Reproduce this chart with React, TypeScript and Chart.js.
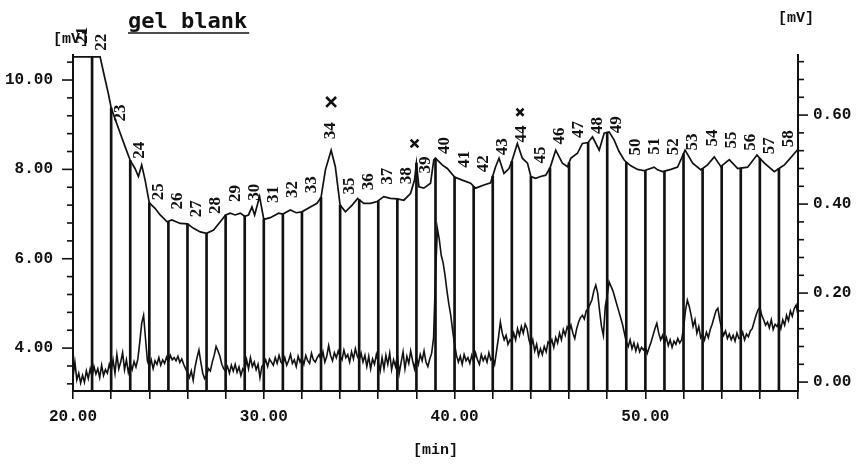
import { useEffect, useRef } from "react";
import { Chart, registerables } from "chart.js";

Chart.register(...registerables);

const INK = "#111111";

// Time axis [min]
const TIME_MIN = 20;
const TIME_MAX = 58;
const TIME_LABELS = [20, 30, 40, 50];

// Left detector axis [mV]
const LEFT_MIN = 3.04;
const LEFT_MAX = 10.56;
const LEFT_LABELS = [4, 6, 8, 10];

// Right detector axis [mV]
const RIGHT_MIN = -0.02;
const RIGHT_MAX = 0.735;
const RIGHT_LABELS = [0, 0.2, 0.4, 0.6];

// Upper trace (left axis) – retention time [min] and signal [mV]
const UPPER_TIME = [
  20.0, 21.0, 21.42, 21.59, 21.85, 22.0, 22.38, 22.73, 23.0, 23.25, 23.43, 23.6, 23.78,
  24.0, 24.3, 24.57, 24.92, 25.0, 25.18, 25.62, 26.0, 26.32, 26.67, 27.0, 27.37, 27.72,
  28.0, 28.24, 28.5, 28.77, 29.0, 29.2, 29.38, 29.52, 29.78, 30.0, 30.34, 30.78, 31.0,
  31.39, 31.7, 32.0, 32.44, 32.79, 33.0, 33.23, 33.53, 33.75, 34.0, 34.28, 34.63, 34.92,
  35.0, 35.24, 35.59, 35.94, 36.0, 36.29, 36.64, 37.0, 37.34, 37.69, 37.9, 38.0, 38.13,
  38.39, 38.74, 38.91, 39.0, 39.35, 39.62, 40.0, 40.4, 40.84, 41.0, 41.1, 41.54, 41.89,
  42.0, 42.15, 42.33, 42.59, 42.85, 43.0, 43.29, 43.55, 43.82, 44.0, 44.25, 44.51, 44.78,
  45.0, 45.3, 45.65, 45.92, 46.0, 46.09, 46.44, 46.7, 47.0, 47.23, 47.58, 47.84, 48.0,
  48.1, 48.36, 48.62, 48.89, 49.0, 49.24, 49.59, 49.94, 50.0, 50.46, 50.64, 50.9, 51.0,
  51.34, 51.69, 52.0, 52.08, 52.48, 52.91, 53.0, 53.26, 53.61, 53.96, 54.0, 54.4, 54.84,
  55.0, 55.36, 55.85, 56.0, 56.24, 56.76, 57.0, 57.29, 57.9, 58.0,
];
const UPPER_MV = [
  10.52, 10.52, 10.52, 10.19, 9.7, 9.38, 8.92, 8.51, 8.2, 8.02, 7.84, 8.1, 7.76,
  7.25, 7.13, 6.98, 6.83, 6.84, 6.87, 6.79, 6.78, 6.68, 6.6, 6.57, 6.64, 6.83,
  6.98, 7.02, 6.98, 7.02, 6.95, 6.98, 7.16, 6.98, 7.39, 6.88, 6.92, 7.02, 7.0,
  7.09, 7.03, 7.05, 7.16, 7.24, 7.37, 7.99, 8.43, 8.06, 7.2, 7.05, 7.2, 7.35,
  7.32, 7.24, 7.24, 7.28, 7.3, 7.39, 7.35, 7.34, 7.31, 7.46, 7.76, 8.14, 7.61,
  7.58, 7.69, 8.21, 8.25, 8.1, 8.02, 7.83, 7.76, 7.69, 7.62, 7.58, 7.65, 7.7,
  7.85, 8.06, 8.25, 7.91, 8.02, 8.18, 8.58, 8.25, 8.14, 7.84, 7.8, 7.84, 7.87,
  8.03, 8.43, 8.14, 8.06, 8.15, 8.25, 8.36, 8.58, 8.6, 8.73, 8.43, 8.81, 8.83,
  8.84, 8.66, 8.4, 8.21, 8.16, 8.08, 8.0, 7.97, 7.98, 8.05, 7.99, 7.95, 7.96,
  8.0, 8.05, 8.35, 8.43, 8.14, 7.99, 8.02, 8.1, 8.28, 8.06, 8.08, 8.22, 8.02,
  8.03, 8.05, 8.32, 8.25, 8.14, 7.95, 8.02, 8.1, 8.4, 8.45,
];

// Fraction cut times [min] and fraction numbers
const FRACTION_CUTS = [
  21, 22, 23, 24, 25, 26, 27, 28, 29, 30, 31, 32, 33, 34, 35, 36, 37, 38, 39,
  40, 41, 42, 43, 44, 45, 46, 47, 48, 49, 50, 51, 52, 53, 54, 55, 56, 57,
];
const FRACTION_NUMBERS = [
  21, 22, 23, 24, 25, 26, 27, 28, 29, 30, 31, 32, 33, 34, 35, 36, 37, 38, 39,
  40, 41, 42, 43, 44, 45, 46, 47, 48, 49, 50, 51, 52, 53, 54, 55, 56, 57, 58,
];

// Marked peaks (×)
const MARK_TIME = [33.53, 37.9, 43.43];
const MARK_MV = [9.51, 8.58, 9.28];

// Lower trace (right axis), sampled every 0.1 min from 20.0 min
const LOWER_START = 20;
const LOWER_STEP = 0.1;
const LOWER_MV = [
  0.010, 0.045, 0.005, 0.020, -0.002, 0.015, 0.000, 0.025, 0.008, 0.030,
  0.012, 0.035, 0.018, 0.030, 0.010, 0.038, 0.015, 0.028, 0.020, 0.040,
  0.025, 0.050, 0.020, 0.062, 0.030, 0.045, 0.066, 0.028, 0.050, 0.022,
  0.040, 0.028, 0.046, 0.034, 0.052, 0.090, 0.132, 0.150, 0.098, 0.048,
  0.035, 0.050, 0.030, 0.048, 0.040, 0.055, 0.038, 0.050, 0.042, 0.056,
  0.045, 0.060, 0.050, 0.055, 0.048, 0.058, 0.044, 0.052, 0.040, 0.030,
  0.022, 0.010, 0.025, 0.004, 0.035, 0.055, 0.072, 0.045, 0.020, 0.008,
  0.015, 0.030, 0.025, 0.045, 0.060, 0.080, 0.070, 0.058, 0.040, 0.030,
  0.025, 0.035, 0.020, 0.038, 0.025, 0.040, 0.022, 0.034, 0.015, 0.030,
  0.025, 0.050, 0.030, 0.055, 0.035, 0.045, 0.028, 0.040, 0.010, 0.035,
  0.040, 0.050, 0.035, 0.052, 0.045, 0.038, 0.055, 0.042, 0.060, 0.045,
  0.040, 0.055, 0.038, 0.048, 0.062, 0.042, 0.050, 0.035, 0.058, 0.045,
  0.055, 0.040, 0.060, 0.048, 0.042, 0.065, 0.050, 0.045, 0.055, 0.062,
  0.050, 0.068, 0.045, 0.058, 0.082, 0.060, 0.048, 0.066, 0.055, 0.070,
  0.058, 0.050, 0.072, 0.055, 0.062, 0.045, 0.068, 0.052, 0.075, 0.058,
  0.050, 0.065, 0.045, 0.060, 0.035, 0.058, 0.030, 0.052, 0.040, 0.062,
  0.045, 0.025, 0.055, 0.030, 0.060, 0.040, 0.065, 0.028, 0.050, 0.035,
  0.060, 0.020, 0.045, 0.068, 0.030, 0.058, 0.042, 0.070, 0.048, 0.030,
  0.055, 0.040, 0.062, 0.048, 0.070, 0.045, 0.035, 0.052, 0.065, 0.100,
  0.240, 0.345, 0.320, 0.285, 0.268, 0.240, 0.205, 0.175, 0.150, 0.115,
  0.085, 0.060, 0.045, 0.058, 0.040, 0.062, 0.048, 0.055, 0.042, 0.060,
  0.045, 0.065, 0.050, 0.040, 0.062, 0.048, 0.058, 0.045, 0.066, 0.050,
  0.055, 0.040, 0.070, 0.100, 0.135, 0.110, 0.095, 0.105, 0.085, 0.095,
  0.090, 0.110, 0.095, 0.120, 0.105, 0.125, 0.110, 0.130, 0.120, 0.095,
  0.080, 0.095, 0.070, 0.085, 0.060, 0.075, 0.062, 0.080, 0.068, 0.090,
  0.085, 0.095, 0.078, 0.100, 0.088, 0.110, 0.095, 0.118, 0.105, 0.124,
  0.115, 0.128, 0.110, 0.098, 0.120, 0.135, 0.145, 0.150, 0.142, 0.160,
  0.165, 0.175, 0.185, 0.205, 0.218, 0.200, 0.160, 0.125, 0.105, 0.170,
  0.195, 0.225, 0.215, 0.205, 0.190, 0.175, 0.160, 0.145, 0.130, 0.110,
  0.090, 0.080, 0.095, 0.075, 0.088, 0.070, 0.085, 0.068, 0.078, 0.072,
  0.080, 0.065, 0.078, 0.090, 0.105, 0.120, 0.132, 0.110, 0.095, 0.105,
  0.088, 0.100, 0.082, 0.095, 0.078, 0.092, 0.085, 0.098, 0.088, 0.095,
  0.120, 0.160, 0.184, 0.170, 0.150, 0.125, 0.140, 0.110, 0.125, 0.100,
  0.108, 0.095, 0.112, 0.100, 0.118, 0.130, 0.145, 0.160, 0.166, 0.140,
  0.120, 0.105, 0.115, 0.098, 0.108, 0.095, 0.105, 0.092, 0.110, 0.098,
  0.100, 0.112, 0.095, 0.108, 0.102, 0.115, 0.120, 0.135, 0.150, 0.162,
  0.168, 0.150, 0.140, 0.128, 0.135, 0.122, 0.140, 0.118, 0.130, 0.125,
  0.135, 0.120, 0.140, 0.128, 0.150, 0.138, 0.160, 0.148, 0.165, 0.173,
  0.150,
];

const TITLE = "gel blank";
const UNIT_Y = "[mV]";
const UNIT_X = "[min]";

const AXIS_FONT = { family: '"Liberation Mono", monospace', size: 16, weight: "bold" as const };

const nearOne = (v: number, list: number[]) => list.some((l) => Math.abs(v - l) < 1e-6);

// upper trace value at time t (linear between recorded points), used to place fraction numbers
const upperAt = (t: number) => {
  for (let i = 1; i < UPPER_TIME.length; i++) {
    if (t <= UPPER_TIME[i]) {
      const t0 = UPPER_TIME[i - 1];
      const t1 = UPPER_TIME[i];
      const f = (t - t0) / (t1 - t0);
      return UPPER_MV[i - 1] + f * (UPPER_MV[i] - UPPER_MV[i - 1]);
    }
  }
  return UPPER_MV[UPPER_MV.length - 1];
};

const decorations = {
  id: "decorations",
  afterDraw(chart: any) {
    const ctx: CanvasRenderingContext2D = chart.ctx;
    const { left, right, top } = chart.chartArea;
    const x = chart.scales.x;
    const y = chart.scales.y;
    const y2 = chart.scales.y2;
    ctx.save();
    ctx.strokeStyle = INK;
    ctx.fillStyle = INK;
    ctx.lineWidth = 1.6;

    // tick marks on both value axes (longer where labelled)
    const tick = (x0: number, x1: number, py: number) => {
      ctx.beginPath();
      ctx.moveTo(x0, py);
      ctx.lineTo(x1, py);
      ctx.stroke();
    };
    y.ticks.forEach((t: any) => {
      const py = y.getPixelForValue(t.value);
      tick(left - (t.label ? 11 : 6), left, py);
    });
    y2.ticks.forEach((t: any) => {
      const py = y2.getPixelForValue(t.value);
      tick(right, right + (t.label ? 10 : 6), py);
    });

    // fraction numbers, written upward above the trace
    ctx.font = 'bold 17px "Liberation Serif", serif';
    ctx.textAlign = "left";
    ctx.textBaseline = "middle";
    FRACTION_NUMBERS.forEach((n) => {
      const mid = n - 0.5;
      const py = Math.max(y.getPixelForValue(upperAt(mid)), top) - 13;
      const px = x.getPixelForValue(mid);
      ctx.save();
      ctx.translate(px, py);
      ctx.rotate(-Math.PI / 2);
      ctx.fillText(String(n), 0, 0);
      ctx.restore();
    });

    // unit labels
    ctx.font = 'bold 15px "Liberation Mono", monospace';
    ctx.textAlign = "left";
    ctx.textBaseline = "middle";
    ctx.fillText(UNIT_Y, left - 20, top - 16);
    ctx.textAlign = "center";
    ctx.fillText(UNIT_Y, right - 2, 18);

    // title with underline
    ctx.font = 'bold 22px "DejaVu Sans Mono", monospace';
    ctx.textAlign = "left";
    ctx.textBaseline = "alphabetic";
    const tx = x.getPixelForValue(TIME_MIN) + 55;
    ctx.fillText(TITLE, tx, 28);
    const w = ctx.measureText(TITLE).width;
    ctx.lineWidth = 1.5;
    ctx.beginPath();
    ctx.moveTo(tx, 33);
    ctx.lineTo(tx + w + 2, 33);
    ctx.stroke();
    ctx.restore();
  },
};

export default function App() {
  const ref = useRef<HTMLCanvasElement | null>(null);

  useEffect(() => {
    if (!ref.current) return;
    const upper = UPPER_TIME.map((t, i) => ({ x: t, y: UPPER_MV[i] }));
    const lower = LOWER_MV.map((v, i) => ({ x: LOWER_START + i * LOWER_STEP, y: v }));
    const cuts = FRACTION_CUTS.map((t) => {
      const i = UPPER_TIME.indexOf(t);
      return { x: t, y: [LEFT_MIN, UPPER_MV[i]] };
    });
    const marks = MARK_TIME.map((t, i) => ({ x: t, y: MARK_MV[i] }));

    const chart = new Chart(ref.current, {
      type: "line",
      data: {
        datasets: [
          {
            label: "upper",
            data: upper,
            yAxisID: "y",
            borderColor: INK,
            borderWidth: 1.7,
            pointRadius: 0,
            tension: 0,
          },
          {
            label: "marks",
            data: marks,
            yAxisID: "y",
            showLine: false,
            pointStyle: "crossRot",
            pointRadius: [7, 5.5, 5],
            pointBorderWidth: 2.6,
            borderColor: INK,
            backgroundColor: INK,
          },
          {
            label: "lower",
            data: lower,
            yAxisID: "y2",
            borderColor: INK,
            borderWidth: 1.6,
            pointRadius: 0,
            tension: 0,
          },
          {
            type: "bar",
            label: "cuts",
            data: cuts as any,
            yAxisID: "y",
            backgroundColor: INK,
            borderWidth: 0,
            barThickness: 2,
          } as any,
        ],
      },
      options: {
        animation: false,
        responsive: true,
        maintainAspectRatio: false,
        events: [],
        layout: { padding: { top: 55, left: 0, right: 0, bottom: 0 } },
        plugins: { legend: { display: false }, tooltip: { enabled: false }, title: { display: false } },
        scales: {
          x: {
            type: "linear",
            min: TIME_MIN,
            max: TIME_MAX,
            offset: false,
            grid: {
              display: true,
              offset: false,
              drawOnChartArea: false,
              drawTicks: true,
              tickLength: 8,
              color: INK,
              lineWidth: 1.6,
            },
            border: { display: true, color: INK, width: 2 },
            ticks: {
              stepSize: 2,
              autoSkip: false,
              maxRotation: 0,
              padding: 8,
              color: INK,
              font: AXIS_FONT,
              callback: (v: any) => (nearOne(Number(v), TIME_LABELS) ? Number(v).toFixed(2) : ""),
            },
            title: {
              display: true,
              text: UNIT_X,
              color: INK,
              font: { family: '"Liberation Mono", monospace', size: 15, weight: "bold" },
              padding: { top: 0, bottom: 7 },
            },
            afterFit: (s: any) => {
              s.height = 75;
            },
          },
          y: {
            type: "linear",
            position: "left",
            min: LEFT_MIN,
            max: LEFT_MAX,
            beginAtZero: false,
            grid: { display: false, drawTicks: false },
            border: { display: true, color: INK, width: 2 },
            ticks: {
              stepSize: 0.4,
              includeBounds: false,
              maxTicksLimit: 1000,
              autoSkip: false,
              padding: 20,
              color: INK,
              font: AXIS_FONT,
              callback: (v: any) => (nearOne(Number(v), LEFT_LABELS) ? Number(v).toFixed(2) : ""),
            },
            afterFit: (s: any) => {
              s.width = 73;
            },
          },
          y2: {
            type: "linear",
            position: "right",
            min: RIGHT_MIN,
            max: RIGHT_MAX,
            beginAtZero: false,
            grid: { display: false, drawTicks: false },
            border: { display: true, color: INK, width: 2 },
            ticks: {
              stepSize: 0.04,
              includeBounds: false,
              maxTicksLimit: 1000,
              autoSkip: false,
              padding: 15,
              color: INK,
              font: AXIS_FONT,
              callback: (v: any) => (nearOne(Number(v), RIGHT_LABELS) ? Number(v).toFixed(2) : ""),
            },
            afterFit: (s: any) => {
              s.width = 58;
            },
          },
        },
      },
      plugins: [decorations],
    } as any);
    return () => chart.destroy();
  }, []);

  return (
    <div style={{ position: "fixed", left: 0, top: 0, width: 856, height: 466, background: "#fff" }}>
      <canvas ref={ref} />
    </div>
  );
}
